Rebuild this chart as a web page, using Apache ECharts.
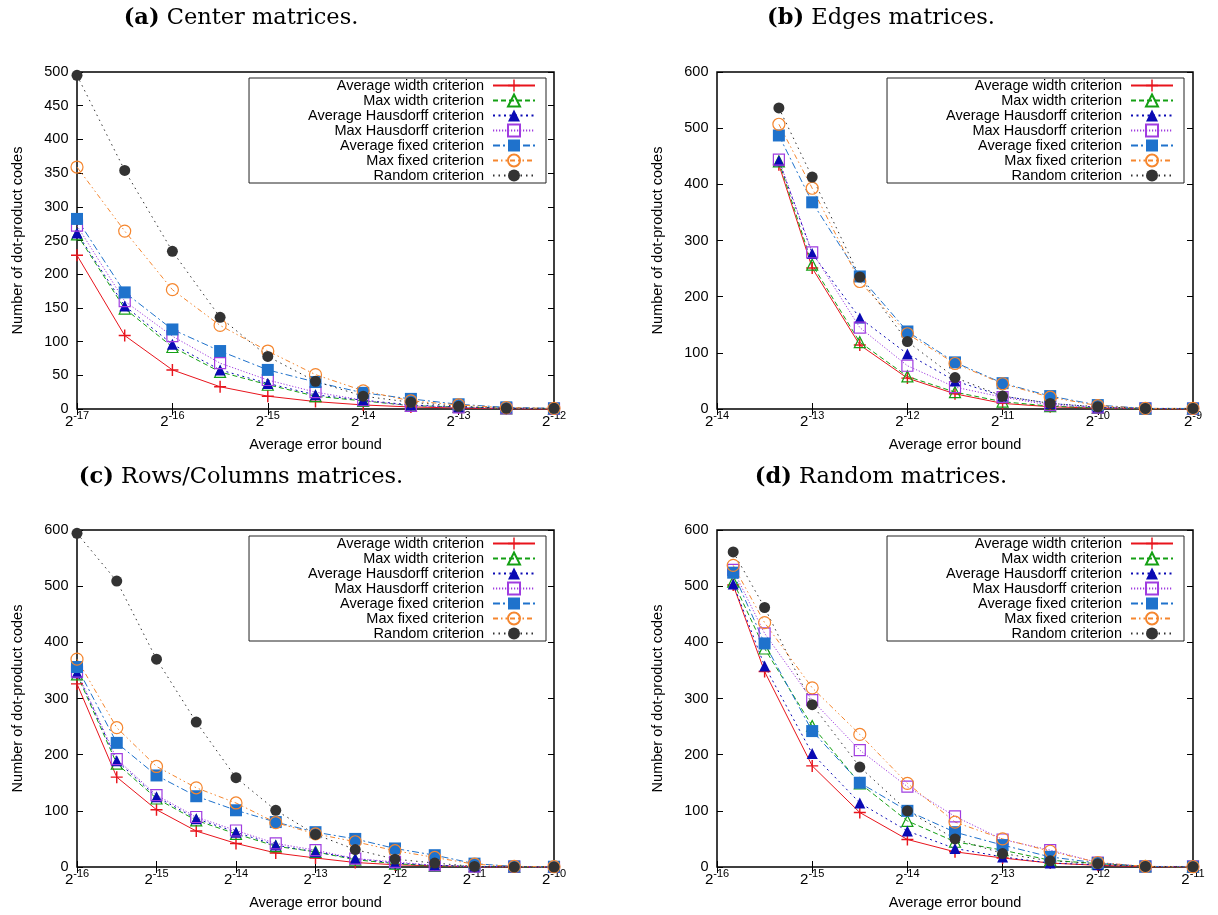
<!DOCTYPE html>
<html>
<head>
<meta charset="utf-8">
<script src="https://cdn.jsdelivr.net/npm/echarts@6/dist/echarts.min.js"></script>
<style>
  html, body { margin: 0; padding: 0; background: #fff; }
  #chart { width: 1218px; height: 915px; }
</style>
</head>
<body>
<div id="chart"></div>
<script>
// ---- Data: number of dot-product codes vs. average error bound (log2 exponent) ----
const seriesNames = [
  'Average width criterion',
  'Max width criterion',
  'Average Hausdorff criterion',
  'Max Hausdorff criterion',
  'Average fixed criterion',
  'Max fixed criterion',
  'Random criterion'
];

// (a) Center matrices
const xA = [-17, -16.5, -16, -15.5, -15, -14.5, -14, -13.5, -13, -12.5, -12];
const aAvgWidth  = [228, 109, 58, 33, 19, 11, 6, 3, 1.5, 0.5, 0];
const aMaxWidth  = [259, 149, 92, 55, 36, 19, 12, 5, 3, 1, 0.5];
const aAvgHaus   = [261, 153, 96, 58, 38, 21, 13, 6, 3, 1, 0.5];
const aMaxHaus   = [272, 160, 108, 68, 43, 25, 13, 4.5, 2.5, 1, 0.5];
const aAvgFixed  = [282, 173, 118, 86, 58, 40, 24, 15, 7, 2.5, 1];
const aMaxFixed  = [359, 264, 177, 124, 86, 51, 27, 12, 6, 2, 1];
const aRandom    = [495, 354, 234, 136, 78, 41, 19, 10, 4, 1, 1];

// (b) Edges matrices
const xB = [-13.35, -13, -12.5, -12, -11.5, -11, -10.5, -10, -9.5, -9];
const bAvgWidth  = [435, 251, 114, 55, 27, 10, 4, 1.5, 0.5, 0];
const bMaxWidth  = [441, 257, 119, 58, 30, 13, 5, 2, 0.5, 0.5];
const bAvgHaus   = [442, 277, 162, 98, 50, 23, 10, 3, 1, 0.5];
const bMaxHaus   = [444, 279, 145, 77, 39, 21, 7, 2.4, 1, 0.5];
const bAvgFixed  = [487, 368, 236, 138, 83, 46, 23, 7, 1, 1];
const bMaxFixed  = [507, 393, 227, 134, 81, 45, 21, 6, 1, 1];
const bRandom    = [536, 413, 235, 120, 56, 23, 10, 4, 1, 1];

// (c) Rows/Columns matrices
const xC = [-16, -15.5, -15, -14.5, -14, -13.5, -13, -12.5, -12, -11.5, -11, -10.5, -10];
const cAvgWidth  = [326, 160, 102, 64, 42, 25, 16, 8, 4, 2, 0.5, 0, 0];
const cMaxWidth  = [343, 184, 122, 83, 59, 37, 27, 13, 6, 2, 1, 0, 0];
const cAvgHaus   = [346, 189, 125, 86, 62, 39, 27, 15, 7, 3, 1, 0.5, 0];
const cMaxHaus   = [348, 192, 128, 89, 65, 42, 30, 15, 9, 3, 0.5, 0.5, 0];
const cAvgFixed  = [356, 221, 163, 126, 101, 80, 62, 50, 33, 21, 6, 1, 0.5];
const cMaxFixed  = [370, 248, 179, 141, 114, 79, 59, 45, 29, 17, 5, 1, 0.5];
const cRandom    = [594, 509, 370, 258, 159, 101, 58, 31, 14, 7, 1, 0, 0];

// (d) Random matrices
const xD = [-15.83, -15.5, -15, -14.5, -14, -13.5, -13, -12.5, -12, -11.5, -11];
const dAvgWidth  = [502, 348, 180, 97, 49, 27, 16, 7, 3, 0.5, 0];
const dMaxWidth  = [508, 389, 251, 149, 82, 45, 30, 12, 6, 1, 0];
const dAvgHaus   = [504, 358, 202, 114, 64, 33, 18, 7, 4, 1, 0];
const dMaxHaus   = [529, 416, 297, 208, 143, 90, 49, 30, 8, 1, 1];
const dAvgFixed  = [524, 398, 242, 150, 100, 62, 39, 18, 7, 1, 0.5];
const dMaxFixed  = [537, 435, 319, 236, 149, 80, 50, 28, 8, 1, 0.5];
const dRandom    = [561, 462, 289, 178, 100, 50, 24, 11, 6, 1, 0.5];

const panelTitles = ['Center matrices.', 'Edges matrices.', 'Rows/Columns matrices.', 'Random matrices.'];
const panelTags = ['(a)', '(b)', '(c)', '(d)'];
const xAxisName = 'Average error bound';
const yAxisName = 'Number of dot-product codes';

// ---- Styling ----
const FONT = 'Liberation Sans';
const PLUS = 'path://M4.4,0H5.6V4.4H10V5.6H5.6V10H4.4V5.6H0V4.4H4.4Z';
const markStyles = [
  { color: '#e8141c', dash: 'solid',            symbol: PLUS,       size: 12, hollow: false },
  { color: '#14a014', dash: [5, 3],             symbol: 'triangle', size: 11, hollow: true  },
  { color: '#0a0ab4', dash: [2, 3.5],           symbol: 'triangle', size: 11, hollow: false },
  { color: '#a03ce0', dash: [1.2, 1.8],         symbol: 'rect',     size: 11, hollow: true  },
  { color: '#1f72cc', dash: [7, 3, 2, 3],       symbol: 'rect',     size: 12, hollow: false },
  { color: '#f5862e', dash: [5, 3, 1.5, 3, 1.5, 3], symbol: 'circle', size: 12, hollow: true },
  { color: '#333333', dash: [1.5, 4],           symbol: 'circle',   size: 11, hollow: false }
];

const panels = [
  { xs: xA, ys: [aAvgWidth, aMaxWidth, aAvgHaus, aMaxHaus, aAvgFixed, aMaxFixed, aRandom],
    grid: { left: 77, top: 72, width: 477, height: 337 }, xMin: -17, xMax: -12, yMax: 500, yStep: 50,
    legend: { right: 672, top: 78 }, title: { x: 241, y: 18 } },
  { xs: xB, ys: [bAvgWidth, bMaxWidth, bAvgHaus, bMaxHaus, bAvgFixed, bMaxFixed, bRandom],
    grid: { left: 717, top: 72, width: 476, height: 337 }, xMin: -14, xMax: -9, yMax: 600, yStep: 100,
    legend: { right: 34, top: 78 }, title: { x: 881, y: 18 } },
  { xs: xC, ys: [cAvgWidth, cMaxWidth, cAvgHaus, cMaxHaus, cAvgFixed, cMaxFixed, cRandom],
    grid: { left: 77, top: 530, width: 477, height: 337 }, xMin: -16, xMax: -10, yMax: 600, yStep: 100,
    legend: { right: 672, top: 536 }, title: { x: 241, y: 477 } },
  { xs: xD, ys: [dAvgWidth, dMaxWidth, dAvgHaus, dMaxHaus, dAvgFixed, dMaxFixed, dRandom],
    grid: { left: 717, top: 530, width: 476, height: 337 }, xMin: -16, xMax: -11, yMax: 600, yStep: 100,
    legend: { right: 34, top: 536 }, title: { x: 881, y: 477 } }
];

const tick = { inside: true, length: 6, lineStyle: { color: '#000', width: 1 } };
const nameStyle = { fontFamily: FONT, fontSize: 14.5, color: '#000' };

const grids = [], xAxes = [], yAxes = [], series = [], legends = [], graphics = [];

panels.forEach((p, gi) => {
  grids.push(Object.assign({
    show: true, borderColor: '#000', borderWidth: 1.5,
    backgroundColor: 'rgba(0,0,0,0)', outerBoundsMode: 'none', containLabel: false
  }, p.grid));

  // bottom axis with labels, top axis mirrors the ticks
  xAxes.push({
    type: 'value', gridIndex: gi, position: 'bottom', min: p.xMin, max: p.xMax, interval: 1,
    axisLine: { show: false }, splitLine: { show: false }, axisTick: tick,
    axisLabel: {
      margin: 5, color: '#000',
      formatter: v => '{b|2}{e|' + v + '}',
      rich: {
        b: { fontFamily: FONT, fontSize: 15, lineHeight: 15, color: '#000' },
        e: { fontFamily: FONT, fontSize: 11, lineHeight: 11, padding: [0, 0, 12, 0], color: '#000' }
      }
    },
    name: xAxisName, nameLocation: 'middle', nameGap: 28, nameTextStyle: nameStyle
  });
  xAxes.push({
    type: 'value', gridIndex: gi, position: 'top', min: p.xMin, max: p.xMax, interval: 1,
    axisLine: { show: false }, splitLine: { show: false }, axisTick: tick, axisLabel: { show: false }
  });

  // left axis with labels, right axis mirrors the ticks
  yAxes.push({
    type: 'value', gridIndex: gi, position: 'left', min: 0, max: p.yMax, interval: p.yStep,
    axisLine: { show: false }, splitLine: { show: false }, axisTick: tick,
    axisLabel: { margin: 8.5, fontFamily: FONT, fontSize: 14.5, color: '#000' },
    name: yAxisName, nameLocation: 'middle', nameGap: 52, nameRotate: 90, nameTextStyle: nameStyle
  });
  yAxes.push({
    type: 'value', gridIndex: gi, position: 'right', min: 0, max: p.yMax, interval: p.yStep,
    axisLine: { show: false }, splitLine: { show: false }, axisTick: tick, axisLabel: { show: false }
  });

  p.ys.forEach((vals, si) => {
    const st = markStyles[si];
    series.push({
      type: 'line', name: seriesNames[si],
      xAxisIndex: gi * 2, yAxisIndex: gi * 2,
      data: p.xs.map((x, k) => [x, vals[k]]),
      symbol: st.symbol, symbolSize: st.size, showSymbol: true, clip: false,
      lineStyle: { color: st.color, width: 1, type: st.dash },
      itemStyle: st.hollow
        ? { color: 'rgba(255,255,255,0)', borderColor: st.color, borderWidth: 1.2 }
        : { color: st.color, borderWidth: 0 },
      emphasis: { disabled: true }, animation: false, silent: true
    });
  });

  legends.push({
    data: seriesNames, orient: 'vertical', align: 'right',
    right: p.legend.right, top: p.legend.top,
    itemWidth: 42, itemHeight: 15, itemGap: 0, padding: [0, 10, 0, 59],
    backgroundColor: '#fff', borderColor: '#222', borderWidth: 1, borderRadius: 0,
    selectedMode: false,
    textStyle: { fontFamily: FONT, fontSize: 14.5, lineHeight: 15, color: '#000', padding: [0, 4, 0, 0] }
  });

  graphics.push({
    type: 'text', x: p.title.x, y: p.title.y,
    style: {
      text: '{t|' + panelTags[gi] + '} ' + panelTitles[gi],
      fontFamily: 'DejaVu Serif', fontSize: 22.5, fill: '#000',
      align: 'center', verticalAlign: 'middle',
      rich: { t: { fontFamily: 'DejaVu Serif', fontSize: 22.5, fontWeight: 'bold' } }
    }
  });
});

const chart = echarts.init(document.getElementById('chart'), null, { renderer: 'canvas' });
chart.setOption({
  animation: false,
  backgroundColor: '#fff',
  grid: grids,
  xAxis: xAxes,
  yAxis: yAxes,
  legend: legends,
  series: series,
  graphic: graphics
});
</script>
</body>
</html>
